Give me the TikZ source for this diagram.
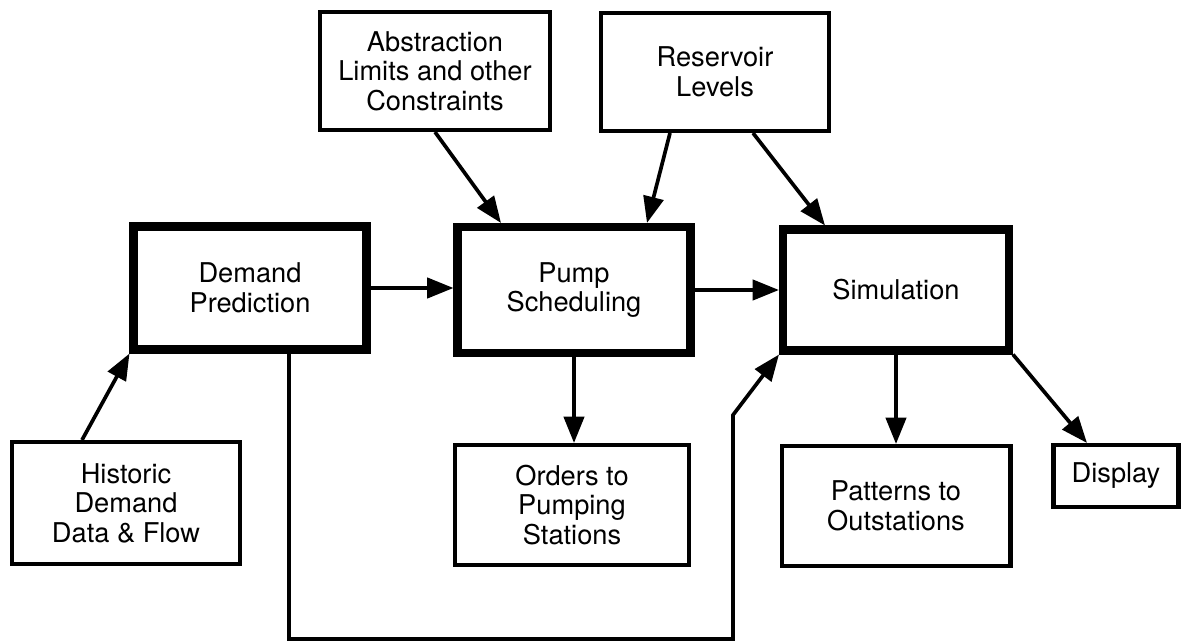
\documentclass[tikz,border=0pt]{standalone}
\usepackage{fontspec}
\setmainfont{TeX Gyre Heros}
\usepackage{tikz}
\usetikzlibrary{calc,arrows.meta}
\usepackage{xcolor}

\begin{document}
\begin{tikzpicture}[x=0.02cm,y=-0.02cm,
    box/.style={draw,line width=2.3pt,inner sep=0pt,align=center,
        font=\fontsize{15.5}{16.8}\selectfont},
    bigbox/.style={box,line width=4.6pt},
    arr/.style={line width=2.1pt,-{Triangle[length=15pt,width=11.5pt]}}]
    \useasboundingbox (0,0) rectangle (1188,642);

    \node[box,minimum width=4.60cm,minimum height=2.36cm] (abs) at (435,71) {Abstraction\\Limits and other\\Constraints};
    \node[box,minimum width=4.56cm,minimum height=2.36cm] (res) at (715,72) {Reservoir\\Levels};
    \node[bigbox,minimum width=4.66cm,minimum height=2.46cm] (dem) at (250,288) {Demand\\Prediction};
    \node[bigbox,minimum width=4.66cm,minimum height=2.52cm] (pump) at (574,290) {Pump\\Scheduling};
    \node[bigbox,minimum width=4.52cm,minimum height=2.42cm] (sim) at (896,290) {Simulation};
    \node[box,minimum width=4.58cm,minimum height=2.44cm] (hist) at (126,503) {Historic\\Demand\\Data \& Flow};
    \node[box,minimum width=4.68cm,minimum height=2.40cm] (ord) at (572,505) {Orders to\\Pumping\\Stations};
    \node[box,minimum width=4.58cm,minimum height=2.40cm] (pat) at (896,506) {Patterns to\\Outstations};
    \node[box,minimum width=2.50cm,minimum height=1.24cm] (disp) at (1116,476) {Display};

    % feedback route under the boxes
    \coordinate (fb1) at (733,639);
    \coordinate (fb2) at (733,415);

    \draw[arr] (abs.south) -- ($(pump.north)+(-73,0)$);
    \draw[arr] ($(res.south)+(-45,0)$) -- ($(pump.north)+(73,0)$);
    \draw[arr] ($(res.south)+(38,0)$) -- ($(sim.north)+(-71,0)$);
    \draw[arr] (dem.east) -- (dem.east -| pump.west);
    \draw[arr] (pump.east) -- (pump.east -| sim.west);
    \draw[arr] ($(hist.north)+(-44,0)$) -- (dem.south west);
    \draw[arr] (pump.south) -- (pump.south |- ord.north);
    \draw[arr] (sim.south) -- (pat.north);
    \draw[arr] (sim.south east) -- ($(disp.north)+(-29,0)$);
    \draw[arr] ($(dem.south)+(39,0)$) |- (fb1) -- (fb2) -- (sim.south west);
\end{tikzpicture}
\end{document}
